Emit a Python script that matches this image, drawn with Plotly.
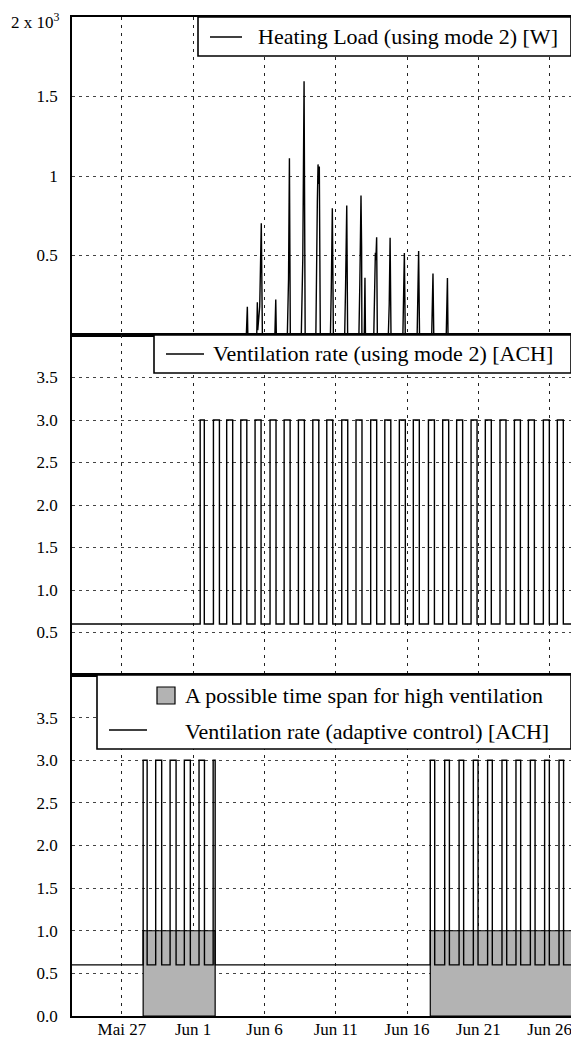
import plotly.graph_objects as go
from plotly.subplots import make_subplots

# ---------------- data ----------------
x_range = ["2013-05-23 12:00", "2013-06-27 12:00"]
date_ticks = ["2013-05-27", "2013-06-01", "2013-06-06", "2013-06-11",
              "2013-06-16", "2013-06-21", "2013-06-26"]
date_tick_labels = ["Mai 27", "Jun 1", "Jun 6", "Jun 11", "Jun 16", "Jun 21", "Jun 26"]

heat_time = [
    "2013-05-23 12:00",
    "2013-06-04 17:30", "2013-06-04 19:10", "2013-06-04 20:00",
    "2013-06-05 11:00", "2013-06-05 12:00", "2013-06-05 12:40", "2013-06-05 16:00",
    "2013-06-05 18:40", "2013-06-05 20:30",
    "2013-06-06 17:30", "2013-06-06 19:00", "2013-06-06 20:00",
    "2013-06-07 14:30", "2013-06-07 16:30", "2013-06-07 18:00", "2013-06-07 19:30",
    "2013-06-08 14:00", "2013-06-08 16:30", "2013-06-08 18:40", "2013-06-08 20:30",
    "2013-06-09 14:30", "2013-06-09 17:00", "2013-06-09 18:10", "2013-06-09 19:00",
    "2013-06-09 20:20", "2013-06-09 22:00",
    "2013-06-10 15:00", "2013-06-10 16:30", "2013-06-10 18:15", "2013-06-10 20:00",
    "2013-06-11 15:00", "2013-06-11 16:30", "2013-06-11 18:30", "2013-06-11 20:00",
    "2013-06-12 15:00", "2013-06-12 16:30", "2013-06-12 18:30", "2013-06-12 19:30",
    "2013-06-12 20:00",
    "2013-06-13 00:00", "2013-06-13 01:10", "2013-06-13 02:00",
    "2013-06-13 16:00", "2013-06-13 18:40", "2013-06-13 19:30", "2013-06-13 20:50",
    "2013-06-13 22:00",
    "2013-06-14 16:30", "2013-06-14 18:00", "2013-06-14 19:30", "2013-06-14 21:00",
    "2013-06-15 17:00", "2013-06-15 19:30", "2013-06-15 21:00",
    "2013-06-16 17:00", "2013-06-16 19:30", "2013-06-16 21:00",
    "2013-06-17 17:30", "2013-06-17 19:40", "2013-06-17 21:00",
    "2013-06-18 18:00", "2013-06-18 20:00", "2013-06-18 21:00",
    "2013-06-27 12:00",
]
heat_value = [
    0,
    0, 177, 0,
    0, 206, 30, 180,
    702, 0,
    0, 223, 0,
    0, 350, 1111, 0,
    0, 480, 1596, 0,
    0, 835, 1073, 950,
    1060, 0,
    0, 300, 797, 0,
    0, 300, 814, 0,
    0, 320, 877, 550,
    0,
    0, 360, 0,
    0, 517, 470, 614,
    0,
    0, 193, 612, 0,
    0, 516, 0,
    0, 528, 0,
    0, 387, 0,
    0, 358, 0,
    0,
]

vent_low = 0.6
vent_high = 3.0

mode2_on = [
    "2013-06-01 11:46", "2013-06-02 10:05", "2013-06-03 08:24", "2013-06-04 08:10",
    "2013-06-05 08:10", "2013-06-06 09:22", "2013-06-07 09:07", "2013-06-08 09:07",
    "2013-06-09 09:22", "2013-06-10 08:53", "2013-06-11 10:05", "2013-06-12 10:05",
    "2013-06-13 10:48", "2013-06-14 10:34", "2013-06-15 11:02", "2013-06-16 10:34",
    "2013-06-17 12:00", "2013-06-18 12:00", "2013-06-19 11:31", "2013-06-20 11:46",
    "2013-06-21 11:46", "2013-06-22 12:29", "2013-06-23 12:43", "2013-06-24 12:14",
    "2013-06-25 13:26", "2013-06-26 12:58",
]
mode2_off = [
    "2013-06-01 18:43", "2013-06-02 20:10", "2013-06-03 18:29", "2013-06-04 18:15",
    "2013-06-05 18:15", "2013-06-06 19:27", "2013-06-07 19:12", "2013-06-08 19:12",
    "2013-06-09 19:27", "2013-06-10 18:58", "2013-06-11 20:10", "2013-06-12 20:10",
    "2013-06-13 20:53", "2013-06-14 20:39", "2013-06-15 21:07", "2013-06-16 20:39",
    "2013-06-17 22:05", "2013-06-18 22:05", "2013-06-19 21:36", "2013-06-20 21:51",
    "2013-06-21 21:51", "2013-06-22 22:34", "2013-06-23 22:48", "2013-06-24 22:19",
    "2013-06-25 23:31", "2013-06-26 23:03",
]

adaptive_on = [
    "2013-05-28 11:46", "2013-05-29 08:53", "2013-05-30 09:07", "2013-05-31 09:07",
    "2013-06-01 09:50", "2013-06-02 09:36",
    "2013-06-17 15:07", "2013-06-18 15:22", "2013-06-19 15:36", "2013-06-20 15:36",
    "2013-06-21 15:36", "2013-06-22 15:50", "2013-06-23 15:22", "2013-06-24 15:36",
    "2013-06-25 15:36", "2013-06-26 15:50",
]
adaptive_off = [
    "2013-05-28 18:29", "2013-05-29 18:58", "2013-05-30 19:12", "2013-05-31 19:12",
    "2013-06-01 18:58", "2013-06-02 12:58",
    "2013-06-17 22:34", "2013-06-18 23:17", "2013-06-19 23:17", "2013-06-20 23:31",
    "2013-06-21 23:31", "2013-06-22 23:46", "2013-06-23 23:17", "2013-06-24 23:31",
    "2013-06-25 23:31", "2013-06-26 23:31",
]

span_start = ["2013-05-28 11:46", "2013-06-17 15:07"]
span_end = ["2013-06-02 12:58", "2013-06-28 00:00"]
span_level = 1.0

heat_ticks = [500, 1000, 1500, 2000]
heat_tick_labels = ["0.5", "1", "1.5", ""]
heat_scale_label = "2 x 10<sup>3</sup>"
vent_ticks_mid = [0.5, 1.0, 1.5, 2.0, 2.5, 3.0, 3.5]
vent_ticks_bot = [0.0, 0.5, 1.0, 1.5, 2.0, 2.5, 3.0, 3.5]

legend_heat = "Heating Load (using mode 2) [W]"
legend_mode2 = "Ventilation rate (using mode 2) [ACH]"
legend_span = "A possible time span for high ventilation"
legend_adaptive = "Ventilation rate (adaptive control) [ACH]"


def step_series(on_list, off_list, low, high, start, end):
    xs, ys = [start], [low]
    for a, b in zip(on_list, off_list):
        xs += [a, b]
        ys += [high, low]
    xs.append(end)
    ys.append(low)
    return xs, ys


# ---------------- figure ----------------
# The page body has an 8px margin, so the figure is 8px smaller than the window
# and its margins are measured from that offset.
OFF = 8
W, H = 579 - OFF, 1039 - OFF
PLOT_L, PLOT_R, PLOT_T, PLOT_B = 72, 571, 17, 1016   # page pixel positions
L = PLOT_L - OFF
T = PLOT_T - OFF
R = W - (PLOT_R - OFF)
B = H - (PLOT_B - OFF)
PW = PLOT_R - PLOT_L
PH = PLOT_B - PLOT_T


def px(x):
    return (x - PLOT_L) / PW


def py(y):
    return (PLOT_B - y) / PH


fig = make_subplots(rows=3, cols=1, shared_xaxes=True, vertical_spacing=0)

FONT = "Liberation Serif"
BLACK = "#000000"

fig.add_trace(go.Scatter(x=heat_time, y=heat_value, mode="lines",
                         line=dict(color=BLACK, width=1.4), showlegend=False),
              row=1, col=1)

m2x, m2y = step_series(mode2_on, mode2_off, vent_low, vent_high, x_range[0], x_range[1])
fig.add_trace(go.Scatter(x=m2x, y=m2y, mode="lines", line_shape="hv",
                         line=dict(color=BLACK, width=1.4), showlegend=False),
              row=2, col=1)

gx, gy = [], []
for s, e in zip(span_start, span_end):
    gx += [s, s, e, e, s, None]
    gy += [0, span_level, span_level, 0, 0, None]
fig.add_trace(go.Scatter(x=gx, y=gy, mode="lines", fill="toself",
                         fillcolor="#b3b3b3", line=dict(color=BLACK, width=1.2),
                         showlegend=False),
              row=3, col=1)

adx, ady = step_series(adaptive_on, adaptive_off, vent_low, vent_high, x_range[0], x_range[1])
fig.add_trace(go.Scatter(x=adx, y=ady, mode="lines", line_shape="hv",
                         line=dict(color=BLACK, width=1.4), showlegend=False),
              row=3, col=1)

domains = [(py(335), 1.0), (py(675), py(335)), (0.0, py(675))]

for i in range(3):
    xa = "xaxis" if i == 0 else f"xaxis{i + 1}"
    ya = "yaxis" if i == 0 else f"yaxis{i + 1}"
    fig.layout[xa].update(
        type="date", range=x_range, tickvals=date_ticks, ticktext=date_tick_labels,
        showgrid=True, gridcolor="#222222", gridwidth=1, griddash="3px,5px",
        showline=True, mirror=True, linecolor=BLACK, linewidth=1.6,
        ticks="", zeroline=False, automargin=False, ticklabeloverflow="allow",
        tickfont=dict(family=FONT, size=17, color=BLACK),
        showticklabels=(i == 2), ticklabelstandoff=-3,
    )
    fig.layout[ya].update(
        domain=list(domains[i]),
        showgrid=True, gridcolor="#444444", gridwidth=1, griddash="3px,4px",
        showline=True, mirror=True, linecolor=BLACK, linewidth=1.6,
        ticks="", zeroline=False, automargin=False, ticklabeloverflow="allow",
        tickfont=dict(family=FONT, size=17, color=BLACK),
        ticklabelstandoff=9,
    )

fig.layout.yaxis.update(range=[0, 2000], tickvals=heat_ticks, ticktext=heat_tick_labels)
fig.layout.yaxis2.update(range=[0, 4], tickvals=vent_ticks_mid,
                         ticktext=[f"{v:.1f}" for v in vent_ticks_mid])
fig.layout.yaxis3.update(range=[0, 4], tickvals=vent_ticks_bot,
                         ticktext=[f"{v:.1f}" for v in vent_ticks_bot])

# ---------------- legends (drawn boxes) ----------------
shapes = []
annotations = []


def box(x0, y0, x1, y1):
    shapes.append(dict(type="rect", xref="paper", yref="paper",
                       x0=px(x0), x1=px(x1), y0=py(y1), y1=py(y0),
                       fillcolor="white", line=dict(color=BLACK, width=1.6),
                       layer="above"))


def sample_line(x0, x1, y):
    shapes.append(dict(type="line", xref="paper", yref="paper",
                       x0=px(x0), x1=px(x1), y0=py(y), y1=py(y),
                       line=dict(color=BLACK, width=1.5), layer="above"))


def label(x, y, text):
    annotations.append(dict(xref="paper", yref="paper", x=px(x), y=py(y),
                            xanchor="left", yanchor="middle", showarrow=False,
                            text=text, font=dict(family=FONT, size=22, color=BLACK)))


# scale label of the top axis (at the 2000 tick)
annotations.append(dict(xref="paper", yref="paper", x=px(62), y=py(21),
                        xanchor="right", yanchor="middle", showarrow=False,
                        text=heat_scale_label,
                        font=dict(family=FONT, size=17, color=BLACK)))

box(198, 17, 571, 56)
sample_line(210, 242, 37)
label(256, 37, legend_heat)

box(154, 335, 571, 373)
sample_line(166, 204, 354)
label(211, 354, legend_mode2)

box(97, 675, 571, 749)
shapes.append(dict(type="rect", xref="paper", yref="paper",
                   x0=px(157), x1=px(175), y0=py(704), y1=py(687),
                   fillcolor="#b3b3b3", line=dict(color=BLACK, width=1.2),
                   layer="above"))
label(183, 695, legend_span)
sample_line(109, 147, 730)
label(183, 731, legend_adaptive)

fig.update_layout(
    width=W, height=H,
    margin=dict(l=L, r=R, t=T, b=B, autoexpand=False),
    plot_bgcolor="white", paper_bgcolor="white",
    shapes=shapes, annotations=annotations,
    showlegend=False,
    font=dict(family=FONT, color=BLACK),
)

fig.write_html("out.html")
